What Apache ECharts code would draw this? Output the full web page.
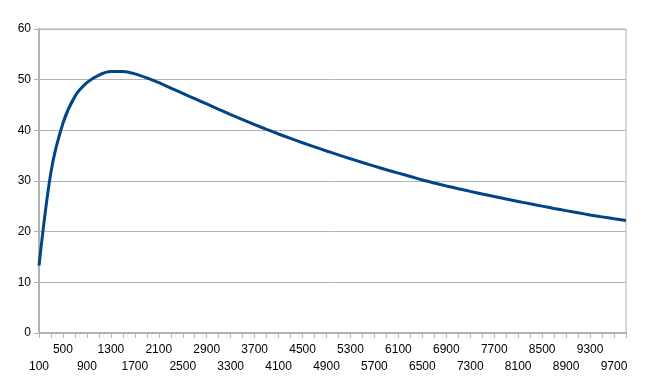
<!DOCTYPE html>
<html>
<head>
<meta charset="utf-8">
<script src="https://cdn.jsdelivr.net/npm/echarts@6/dist/echarts.min.js"></script>
<style>
html,body{margin:0;padding:0;background:#fff;}
#chart{width:659px;height:385px;}
</style>
</head>
<body>
<div id="chart"></div>
<script>
var categories = [100,300,500,700,900,1100,1300,1500,1700,1900,
  2100,2300,2500,2700,2900,3100,3300,3500,3700,3900,
  4100,4300,4500,4700,4900,5100,5300,5500,5700,5900,
  6100,6300,6500,6700,6900,7100,7300,7500,7700,7900,
  8100,8300,8500,8700,8900,9100,9300,9500,9700,9900];
var values = [13.3,31.8,41.4,46.7,49.4,50.9,51.6,51.6,51.15,50.35,
  49.4,48.35,47.3,46.25,45.2,44.15,43.1,42.1,41.13,40.19,
  39.28,38.4,37.55,36.73,35.93,35.15,34.39,33.65,32.93,32.23,
  31.55,30.89,30.2,29.6,29.03,28.48,27.95,27.44,26.94,26.45,
  25.97,25.5,25.04,24.59,24.15,23.72,23.3,22.92,22.55,22.2];
var yTicks = [0,10,20,30,40,50,60];

var labelFont = {color:'#000',fontFamily:'Liberation Sans, Arial, sans-serif',fontSize:12};

var chart = echarts.init(document.getElementById('chart'), null, {renderer:'canvas'});
chart.setOption({
  animation:false,
  backgroundColor:'#ffffff',
  grid:{left:39,right:33,top:29,bottom:52,show:true,borderColor:'#b3b3b3',borderWidth:1},
  xAxis:[{
    type:'category',
    data:categories.map(String),
    boundaryGap:false,
    position:'bottom',
    axisLine:{lineStyle:{color:'#b3b3b3',width:2}},
    axisTick:{show:true,interval:0,length:5,lineStyle:{color:'#b3b3b3',width:1}},
    axisLabel:Object.assign({
      interval:function(i){ return i % 4 === 2; },
      margin:11
    }, labelFont),
    splitLine:{show:false}
  },{
    type:'category',
    data:categories.map(String),
    boundaryGap:false,
    position:'bottom',
    offset:17,
    axisLine:{show:false},
    axisTick:{show:false},
    axisLabel:Object.assign({
      interval:function(i){ return i % 4 === 0; },
      margin:11
    }, labelFont),
    splitLine:{show:false}
  }],
  yAxis:{
    type:'value',
    min:yTicks[0],
    max:yTicks[yTicks.length-1],
    interval:10,
    axisLine:{show:true,lineStyle:{color:'#b3b3b3',width:2}},
    axisTick:{show:true,length:5,lineStyle:{color:'#b3b3b3'}},
    axisLabel:Object.assign({margin:8}, labelFont),
    splitLine:{show:true,lineStyle:{color:'#b3b3b3',width:1}}
  },
  series:[{
    type:'line',
    xAxisIndex:0,
    data:values,
    smooth:0.3,
    showSymbol:false,
    lineStyle:{color:'#004586',width:3},
    itemStyle:{color:'#004586'}
  }]
});
</script>
</body>
</html>
